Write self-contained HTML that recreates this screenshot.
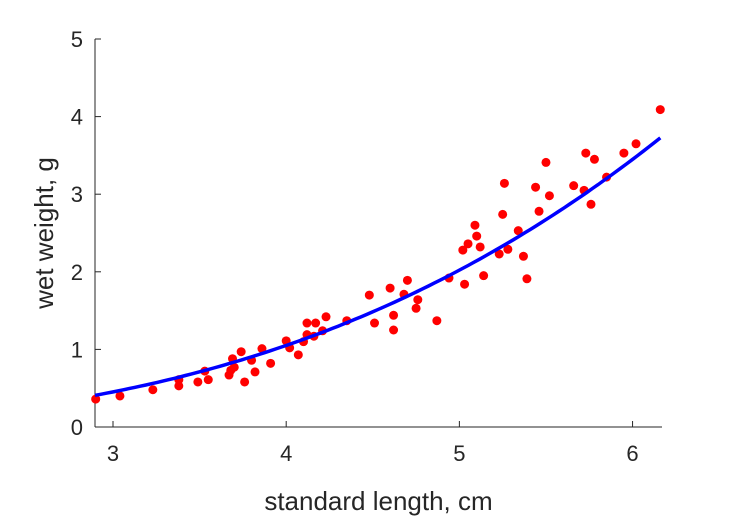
<!DOCTYPE html>
<html><head><meta charset="utf-8"><style>
html,body{margin:0;padding:0;background:#fff;}
svg{display:block;font-family:"Liberation Sans",sans-serif;}
</style></head><body>
<svg id="chart" width="729" height="521" xmlns="http://www.w3.org/2000/svg">
<g id="axes"></g>
<g id="marks"></g>
</svg>
<script>
const xTicks=[3,4,5,6];
const yTicks=[0,1,2,3,4,5];
const xData=[2.90,3.04,3.23,3.38,3.38,3.49,3.53,3.55,3.67,3.68,3.69,3.70,3.74,3.76,3.80,3.82,3.86,3.91,4.00,4.02,4.07,4.10,4.12,4.12,4.16,4.17,4.21,4.23,4.35,4.48,4.51,4.60,4.62,4.62,4.68,4.70,4.75,4.76,4.87,4.94,5.02,5.03,5.05,5.09,5.10,5.12,5.14,5.23,5.25,5.26,5.28,5.34,5.37,5.39,5.44,5.46,5.50,5.52,5.66,5.72,5.73,5.76,5.78,5.85,5.95,6.02,6.16];
const yData=[0.36,0.40,0.48,0.61,0.53,0.58,0.72,0.61,0.67,0.73,0.88,0.77,0.97,0.58,0.86,0.71,1.01,0.82,1.11,1.02,0.93,1.10,1.34,1.19,1.17,1.34,1.24,1.42,1.37,1.70,1.34,1.79,1.44,1.25,1.71,1.89,1.53,1.64,1.37,1.92,2.28,1.84,2.36,2.60,2.46,2.32,1.95,2.23,2.74,3.14,2.29,2.53,2.20,1.91,3.09,2.78,3.41,2.98,3.11,3.05,3.53,2.87,3.45,3.22,3.53,3.65,4.09];
const fitA=[0.0181];
const fitB=[2.93];
const xDomain=[2.896,6.17];
const yDomain=[0,5];
const NS="http://www.w3.org/2000/svg";
const L=95,R=662,T=39,B=427;
function sx(v){return L+(v-xDomain[0])/(xDomain[1]-xDomain[0])*(R-L);}
function sy(v){return B-(v-yDomain[0])/(yDomain[1]-yDomain[0])*(B-T);}
function mk(t,a,p){const e=document.createElementNS(NS,t);for(const k in a)e.setAttribute(k,a[k]);p.appendChild(e);return e;}
const ax=document.getElementById('axes'),mg=document.getElementById('marks');
const yl=mk('line',{x1:L,y1:T,x2:L,y2:B,stroke:'#262626','stroke-width':1},ax);


const xl=mk('line',{x1:L,y1:B,x2:R,y2:B,stroke:'#262626','stroke-width':1},ax);


xTicks.forEach(v=>{
 const tk=mk('line',{x1:sx(v),y1:B,x2:sx(v),y2:B-6,stroke:'#262626'},ax);
 
 
 const t=mk('text',{x:sx(v),y:B+34,'text-anchor':'middle','font-size':22,fill:'#262626'},ax);
 t.textContent=v;
 
 
});
yTicks.forEach(v=>{
 const tk=mk('line',{x1:L,y1:sy(v),x2:L+6,y2:sy(v),stroke:'#262626'},ax);
 
 
 const t=mk('text',{x:L-12,y:sy(v)+8,'text-anchor':'end','font-size':22,fill:'#262626'},ax);
 t.textContent=v;
 
 
});
const xt=mk('text',{x:(L+R)/2,y:510,'text-anchor':'middle','font-size':26,fill:'#262626'},ax);
xt.textContent='standard length, cm';


const yt=mk('text',{x:0,y:0,'text-anchor':'middle','font-size':26,fill:'#262626',transform:'translate(53,233) rotate(-90)'},ax);
yt.textContent='wet weight, g';


xData.forEach((x,i)=>{
 const c=mk('circle',{cx:sx(x),cy:sy(yData[i]),r:4.5,fill:'#ff0000'},mg);
 
 
});
let d='';
for(let i=0;i<=100;i++){const x=xDomain[0]+(xDomain[1]-0.01-xDomain[0])*i/100;const y=fitA[0]*Math.pow(x,fitB[0]);d+=(i?'L':'M')+sx(x).toFixed(1)+','+sy(y).toFixed(1);}
const p=mk('path',{d:d,fill:'none',stroke:'#0000ff','stroke-width':3.5},mg);


</script>
</body></html>
